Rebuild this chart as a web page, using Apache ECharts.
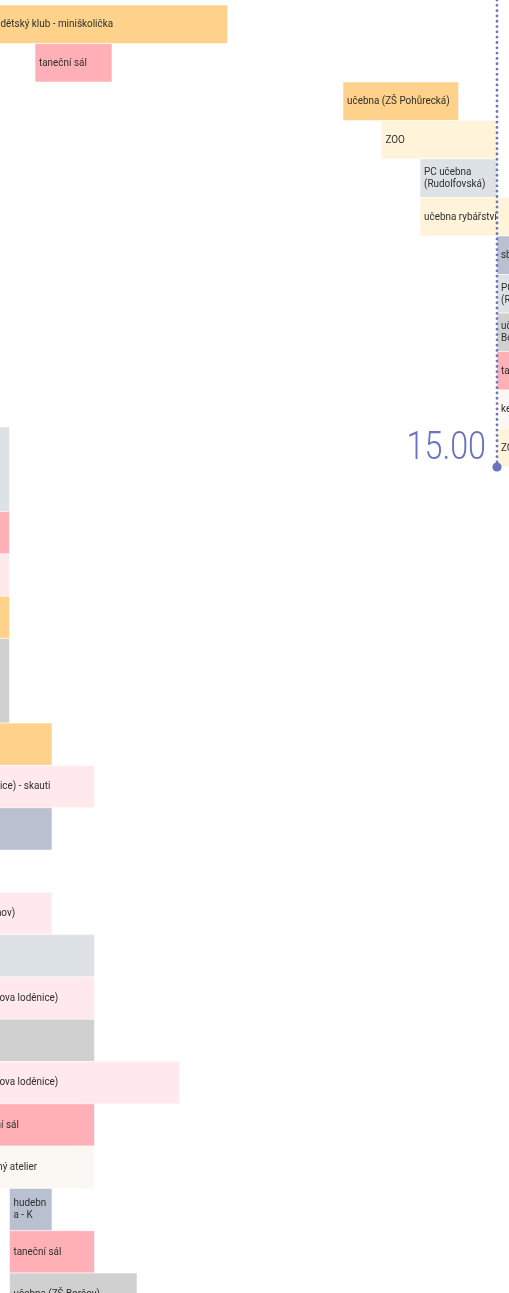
<!DOCTYPE html>
<html>
<head>
<meta charset="utf-8">
<script src="https://cdn.jsdelivr.net/npm/echarts@6/dist/echarts.min.js"></script>
<style>
html,body{margin:0;padding:0;background:#fff;}
#chart{width:509px;height:1293px;}
</style>
</head>
<body>
<div id="chart"></div>
<script>
// ---- upper schedule (times in hours) ----
const upperRooms = [
  'dětský klub - miniškolička',
  'taneční sál',
  'učebna (ZŠ Pohůrecká)',
  'ZOO',
  'PC učebna (Rudolfovská)',
  'učebna rybářství',
  'sborovna',
  'PC učebna (Rudolfovská)',
  'učebna (ZŠ Boršov)',
  'taneční sál',
  'keramický atelier',
  'ZOO'
];
const upperStart = [8.5, 9.0, 13.0, 13.5, 14.0, 14.0, 15.0, 15.0, 15.0, 15.0, 15.0, 15.0];
const upperEnd   = [11.5, 10.0, 14.5, 15.0, 15.0, 16.0, 16.5, 16.0, 16.0, 16.0, 16.5, 16.0];
const upperKind  = ['klub', 'tanec', 'klub', 'zoo', 'pc', 'zoo', 'sbor', 'pc', 'skola', 'tanec', 'atelier', 'zoo'];

// ---- lower schedule ----
const lowerRooms = [
  'PC učebna (Rudolfovská)',
  'taneční sál',
  'klubovna (Lannova loděnice)',
  'učebna (ZŠ Pohůrecká)',
  'učebna (ZŠ Boršov)',
  'dětský klub - miniškolička',
  'klubovna (Lannova loděnice) - skauti',
  'sborovna',
  'tělocvična (Rožnov)',
  'PC učebna (Rudolfovská)',
  'klubovna (Lannova loděnice)',
  'učebna (ZŠ Boršov)',
  'klubovna (Lannova loděnice)',
  'taneční sál',
  'výtvarný atelier',
  'hudebna - K',
  'taneční sál',
  'učebna (ZŠ Boršov)'
];
const lowerStart = [6.0, 7.0, 6.0, 6.0, 6.5, 6.0, 6.55, 7.0, 7.0, 6.0, 7.045, 6.5, 7.045, 7.5, 7.5, 8.0, 8.0, 8.0];
const lowerEnd   = [8.0, 8.0, 8.0, 8.0, 8.0, 8.5, 9.0, 8.5, 8.5, 9.0, 9.0, 9.0, 10.0, 9.0, 9.0, 8.5, 9.0, 9.5];
const lowerRow   = [0, 2, 3, 4, 5, 7, 8, 9, 11, 12, 13, 14, 15, 16, 17, 18, 19, 20];
const lowerSpan  = [2, 1, 1, 1, 2, 1, 1, 1, 1, 1, 1, 1, 1, 1, 1, 1, 1, 1];
const lowerKind  = ['pc', 'tanec', 'lodenice', 'klub', 'skola', 'klub', 'lodenice', 'sbor', 'lodenice', 'pc', 'lodenice', 'skola', 'lodenice', 'tanec', 'atelier', 'sbor', 'tanec', 'skola'];

const nowTime = 15.0;
const nowLabel = '15.00';

// ---- styles ----
const palette = {
  klub: '#fed28b',
  tanec: '#ffb0b6',
  zoo: '#fff3da',
  pc: '#dde2e7',
  sbor: '#b9c0d0',
  skola: '#d0d0d0',
  atelier: '#fbf8f4',
  lodenice: '#ffe9ec'
};
const markColor = '#6a73bd';
const labelFamily = 'Roboto, "Noto Sans", sans-serif';
const labelSize = 11;
const labelScale = 0.9;
const labelFontStr = labelSize + 'px Roboto';

const upperData = upperRooms.map((r, i) => [upperStart[i], upperEnd[i], i, 1, i]);
const lowerData = lowerRooms.map((r, i) => [lowerStart[i], lowerEnd[i], lowerRow[i], lowerSpan[i], i]);

function makeRender(rooms, kinds) {
  return function (params, api) {
    const s = api.value(0), e = api.value(1), row = api.value(2), span = api.value(3), idx = api.value(4);
    const p0 = api.coord([s, row]);
    const p1 = api.coord([e, row + span]);
    const x = p0[0], y = p0[1], w = p1[0] - p0[0], h = p1[1] - p0[1];
    const avail = Math.max((w - 6) / labelScale, 10);
    const tw = echarts.format.getTextRect(rooms[idx], labelFontStr).width;
    const textStyle = {
      text: rooms[idx], lineHeight: 12,
      fontSize: labelSize, fontFamily: labelFamily, fontWeight: 'normal',
      fill: '#2e2e2e', align: 'left', verticalAlign: 'middle'
    };
    if (tw > avail) {
      textStyle.width = avail;
      textStyle.overflow = 'break';
      textStyle.height = h - 2;
      textStyle.lineOverflow = 'truncate';
    }
    return {
      type: 'group',
      children: [
        { type: 'rect', shape: { x: x, y: y, width: w, height: h },
          style: { fill: palette[kinds[idx]], stroke: 'rgba(255,255,255,0.55)', lineWidth: 1 } },
        { type: 'text', x: x + 4, y: y + h / 2, scaleX: labelScale, style: textStyle }
      ]
    };
  };
}

const chart = echarts.init(document.getElementById('chart'), null, { renderer: 'canvas' });
const hidden = { show: false };
chart.setOption({
  animation: false,
  grid: [
    { left: 0, right: 0, top: 0, height: 467 },
    { left: 0, right: 0, top: 427, bottom: 0 }
  ],
  xAxis: [
    { type: 'value', gridIndex: 0, min: 15 - 497 / 77, max: 15 - 497 / 77 + 509 / 77,
      axisLine: hidden, axisTick: hidden, axisLabel: hidden, splitLine: hidden },
    { type: 'value', gridIndex: 1, min: 8 - 9.5 / 85, max: 8 - 9.5 / 85 + 509 / 85,
      axisLine: hidden, axisTick: hidden, axisLabel: hidden, splitLine: hidden }
  ],
  yAxis: [
    { type: 'value', gridIndex: 0, inverse: true, min: -5 / 38.5, max: 12,
      axisLine: hidden, axisTick: hidden, axisLabel: hidden, splitLine: hidden },
    { type: 'value', gridIndex: 1, inverse: true, min: 0, max: 866 / 42.3,
      axisLine: hidden, axisTick: hidden, axisLabel: hidden, splitLine: hidden }
  ],
  series: [
    { type: 'custom', xAxisIndex: 0, yAxisIndex: 0, clip: false, z: 2,
      renderItem: makeRender(upperRooms, upperKind), data: upperData,
      encode: { x: [0, 1], y: 2 } },
    { type: 'custom', xAxisIndex: 1, yAxisIndex: 1, clip: false, z: 1,
      renderItem: makeRender(lowerRooms, lowerKind), data: lowerData,
      encode: { x: [0, 1], y: 2 } },
    { type: 'custom', xAxisIndex: 0, yAxisIndex: 0, clip: false, z: 5,
      data: [[nowTime]],
      encode: { x: 0 },
      renderItem: function (params, api) {
        const cs = params.coordSys;
        const px = api.coord([api.value(0), 0])[0];
        const top = cs.y, bottom = cs.y + cs.height;
        return {
          type: 'group',
          children: [
            { type: 'line', shape: { x1: px, y1: top, x2: px, y2: bottom },
              style: { stroke: markColor, lineWidth: 2.8, lineDash: [0.01, 5.3], lineCap: 'round' } },
            { type: 'circle', shape: { cx: px, cy: bottom, r: 4.6 }, style: { fill: markColor } },
            { type: 'text', x: px - 11, y: bottom - 18, scaleX: 0.85,
              style: { text: nowLabel, fontSize: 38, fontWeight: 300, fontFamily: 'Roboto, sans-serif',
                       fill: markColor, align: 'right', verticalAlign: 'middle' } }
          ]
        };
      }
    }
  ]
});
</script>
</body>
</html>
